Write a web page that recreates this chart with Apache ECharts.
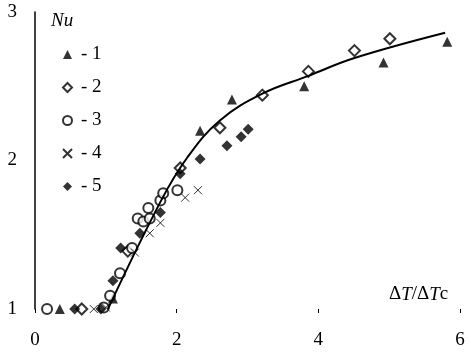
<!DOCTYPE html>
<html>
<head>
<meta charset="utf-8">
<script src="https://cdn.jsdelivr.net/npm/echarts@6/dist/echarts.min.js"></script>
<style>
  html, body { margin: 0; padding: 0; background: #fff; }
  #chart { width: 471px; height: 357px; }
</style>
</head>
<body>
<div id="chart"></div>
<script>
// x = ΔT/ΔTc, y = Nu
const series1 = [[0.35, 1.0], [1.10, 1.07], [2.33, 2.20], [2.78, 2.41], [3.80, 2.50], [4.92, 2.66], [5.82, 2.80]];
const series2 = [[0.66, 1.0], [1.31, 1.39], [2.05, 1.95], [2.61, 2.22], [3.21, 2.44], [3.86, 2.60], [4.51, 2.74], [5.01, 2.82]];
const series3 = [[0.17, 1.0], [0.97, 1.01], [1.06, 1.09], [1.20, 1.24], [1.37, 1.41], [1.45, 1.61], [1.53, 1.59],
  [1.60, 1.68], [1.62, 1.61], [1.77, 1.73], [1.81, 1.78], [2.01, 1.80]];
const series4 = [[0.83, 1.0], [1.00, 1.01], [1.41, 1.38], [1.62, 1.51], [1.77, 1.58], [2.12, 1.75], [2.30, 1.80]];
const series5 = [[0.56, 1.0], [0.93, 1.0], [1.10, 1.19], [1.21, 1.41], [1.48, 1.51], [1.77, 1.65], [2.05, 1.91],
  [2.33, 2.01], [2.71, 2.10], [2.91, 2.16], [3.01, 2.21]];
const fitCurve = [[1.03, 1.0], [1.78, 1.73], [2.15, 2.02], [2.61, 2.27], [3.21, 2.45], [3.86, 2.57], [4.51, 2.69], [5.79, 2.86]];
const seriesNames = ["1", "2", "3", "4", "5"];

const font = "Liberation Serif";
const crossPath = "path://M0,0L10,10M10,0L0,10";

function scatter(name, data, symbol, size, filled) {
  return {
    type: "scatter",
    name: name,
    data: data,
    symbol: symbol,
    symbolSize: size,
    itemStyle: filled
      ? { color: "#000" }
      : { color: "#000", borderColor: "#000", borderWidth: 1 }
  };
}

const chart = echarts.init(document.getElementById("chart"), null, { renderer: "canvas" });

chart.setOption({
  animation: false,
  backgroundColor: "#fff",
  textStyle: { fontFamily: font },
  title: [
    {
      text: "Nu",
      left: 46,
      top: 6,
      textStyle: { fontFamily: font, fontStyle: "italic", fontWeight: "normal", fontSize: 19, color: "#000" }
    },
    {
      text: "{n|Δ}{i|T}{n|/Δ}{i|T}{n|c}",
      left: 384,
      top: 280,
      textStyle: {
        fontWeight: "normal",
        rich: {
          n: { fontFamily: font, fontSize: 19, fontWeight: "normal", color: "#000" },
          i: { fontFamily: font, fontSize: 19, fontWeight: "normal", fontStyle: "italic", color: "#000" }
        }
      }
    }
  ],
  legend: {
    data: seriesNames,
    orient: "vertical",
    left: 57,
    top: 40,
    itemWidth: 9,
    itemHeight: 9,
    itemGap: 14,
    formatter: "- {name}",
    textStyle: { fontFamily: font, fontSize: 19, color: "#000", lineHeight: 19, padding: [0, 0, 0, 4] }
  },
  grid: { left: 35, right: 11, top: 12, bottom: 48 },
  xAxis: {
    type: "value",
    min: 0,
    max: 6,
    interval: 2,
    splitLine: { show: false },
    axisLine: { show: false },
    axisTick: { show: true, length: 4, lineStyle: { color: "#000", width: 1 } },
    axisLabel: { margin: 22, fontFamily: font, fontSize: 19, color: "#000" }
  },
  yAxis: {
    type: "value",
    min: 1,
    max: 3,
    interval: 1,
    splitLine: { show: false },
    axisLine: { show: true, onZero: false, lineStyle: { color: "#000", width: 1.5 } },
    axisTick: { show: false },
    axisLabel: { margin: 18, fontFamily: font, fontSize: 19, color: "#000", padding: [0, 0, 8, 0] }
  },
  series: [
    scatter(seriesNames[0], series1, "triangle", 10, true),
    scatter(seriesNames[1], series2, "emptyDiamond", 11, false),
    scatter(seriesNames[2], series3, "emptyCircle", 10, false),
    scatter(seriesNames[3], series4, crossPath, 8, false),
    scatter(seriesNames[4], series5, "diamond", 11, true),
    {
      type: "line",
      name: "fit",
      data: fitCurve,
      smooth: 0.4,
      showSymbol: false,
      symbol: "none",
      lineStyle: { color: "#000", width: 2 },
      z: 3
    }
  ]
});
</script>
</body>
</html>
